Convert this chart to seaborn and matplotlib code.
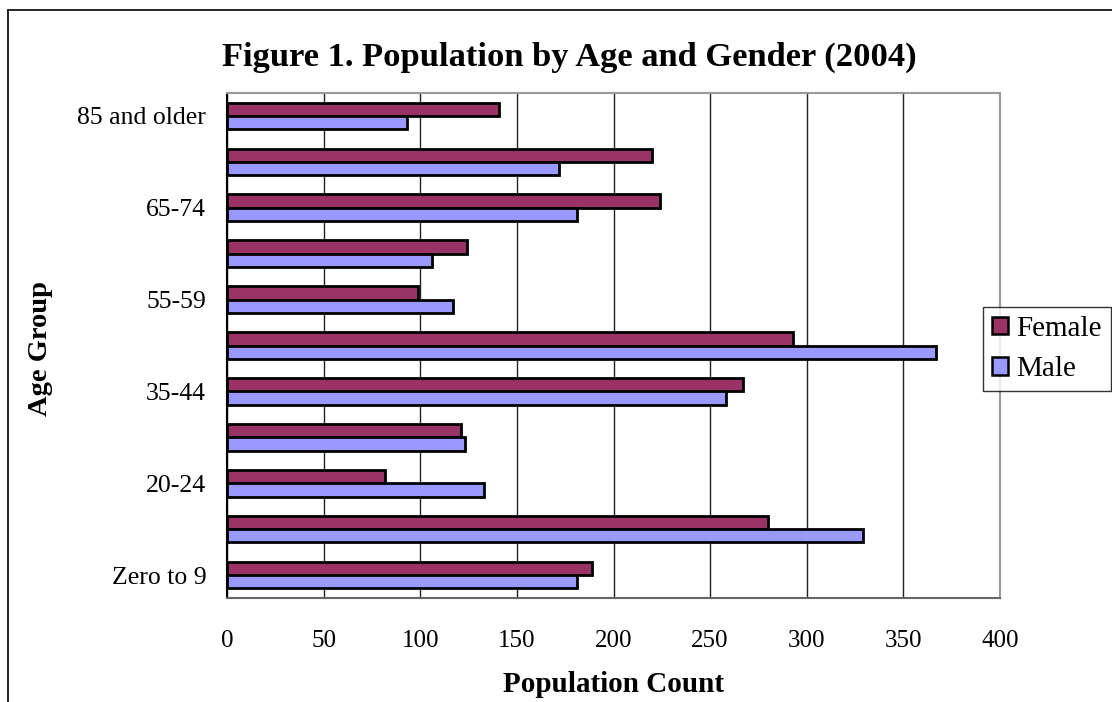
import matplotlib
matplotlib.use("Agg")
import matplotlib.pyplot as plt
from matplotlib.lines import Line2D
from matplotlib.patches import Patch
import seaborn as sns
import pandas as pd

categories = ["Zero to 9", "10-19", "20-24", "25-34", "35-44", "45-54",
              "55-59", "60-64", "65-74", "75-84", "85 and older"]
female = [189, 280, 82, 121, 267, 293, 99, 124, 224, 220, 141]
male = [181, 329, 133, 123, 258, 367, 117, 106, 181, 172, 93]
shown_labels = ["Zero to 9", "20-24", "35-44", "55-59", "65-74", "85 and older"]
x_ticks = [0, 50, 100, 150, 200, 250, 300, 350, 400]

sns.set_theme(style="white")
plt.rcParams['font.family'] = ['Liberation Serif', 'DejaVu Serif']
plt.rcParams['text.color'] = 'black'
plt.rcParams['axes.labelcolor'] = 'black'
plt.rcParams['xtick.color'] = 'black'
plt.rcParams['ytick.color'] = 'black'

df = pd.DataFrame({
    "Age Group": categories * 2,
    "Population Count": female + male,
    "Gender": ["Female"] * len(categories) + ["Male"] * len(categories),
})

fig = plt.figure(figsize=(11.12, 7.02), dpi=100)
ax = fig.add_axes([227 / 1112, 1 - 598 / 702, (1000 - 227) / 1112, (598 - 93) / 702])

order = categories[::-1]
palette = {"Female": "#993366", "Male": "#9999FF"}
sns.barplot(data=df, y="Age Group", x="Population Count", hue="Gender",
            order=order, hue_order=["Female", "Male"], palette=palette,
            orient="h", width=0.58, edgecolor="black", linewidth=2.0,
            saturation=1, ax=ax, legend=False, zorder=3)

ax.set_xlim(0, 400)
ax.set_ylim(len(categories) - 0.5, -0.5)
ax.set_xticks(x_ticks)
ax.set_xticklabels([str(v) for v in x_ticks], fontsize=18)
ax.grid(axis="x", color="#222222", linewidth=1.0, zorder=0)
ax.grid(axis="y", visible=False)

# category labels at centers, every other one
ax.set_yticks(range(len(order)))
ax.set_yticklabels([c if c in shown_labels else "" for c in order], fontsize=18.5)
ax.tick_params(axis="y", length=0, pad=15)
# boundary ticks (Excel style)
ax.set_yticks([i - 0.5 for i in range(len(order) + 1)], minor=True)
ax.tick_params(axis="y", which="minor", length=9, width=1.2, color="black", direction="out")
ax.tick_params(axis="x", length=9, width=1.2, color="#444444", direction="out", pad=14)

for side in ["top", "right"]:
    ax.spines[side].set_color("#999999")
    ax.spines[side].set_linewidth(1.5)
ax.spines["bottom"].set_color("#666666")
ax.spines["bottom"].set_linewidth(1.5)
ax.spines["left"].set_color("black")
ax.spines["left"].set_linewidth(1.5)

ax.set_xlabel("Population Count", fontsize=21, fontweight="bold", labelpad=14)
ax.set_ylabel("Age Group", fontsize=20.5, fontweight="bold")
ax.yaxis.set_label_coords((53 - 227) / 773, 0.495)

fig.text((225 + 914) / 2 / 1112, 1 - 57 / 702,
         "Figure 1. Population by Age and Gender (2004)",
         ha="center", va="center", fontsize=24.8, fontweight="bold")

handles = [Patch(facecolor=palette["Female"], edgecolor="black", linewidth=1.8, label="Female"),
           Patch(facecolor=palette["Male"], edgecolor="black", linewidth=1.8, label="Male")]
leg = fig.legend(handles=handles, loc="upper left",
                 bbox_to_anchor=(983 / 1112, 1 - 307 / 702),
                 fontsize=21, frameon=True, fancybox=False,
                 handlelength=0.55, handleheight=0.55, handletextpad=0.3,
                 borderpad=0.3, labelspacing=0.5, borderaxespad=0)
leg.get_frame().set_edgecolor("black")
leg.get_frame().set_linewidth(1.0)

# outer chart frame
fig.add_artist(Line2D([8 / 1112, 8 / 1112], [0, 1 - 10 / 702], color="black", linewidth=1.2,
                      transform=fig.transFigure))
fig.add_artist(Line2D([8 / 1112, 1], [1 - 10 / 702, 1 - 10 / 702], color="black", linewidth=1.2,
                      transform=fig.transFigure))

fig.savefig("out.png", dpi=100)
